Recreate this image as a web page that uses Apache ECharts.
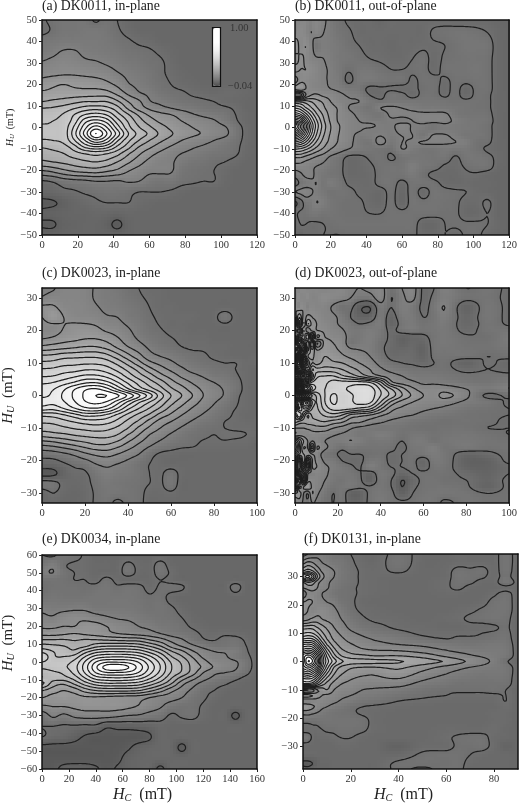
<!DOCTYPE html>
<html><head><meta charset="utf-8">
<script src="https://cdn.jsdelivr.net/npm/echarts@6/dist/echarts.min.js"></script>
<style>html,body{margin:0;padding:0;background:#fff}#c{width:520px;height:804px}</style></head>
<body><div id="c"></div>
<script>
// FORC values, in units of 1/200 (contours every 10 units)
const hcA=[0,6,12,18,24,30,36,42,48,54,60,66,72,78,84,90,96,102,108,114,120];
const huA=[50,45,40,35,30,25,20,16,12,9,6,3,0,-3,-6,-9,-12,-16,-20,-25,-30,-35,-40,-45,-50];
const zA=[
[9,12,14,14,14,9,13,10,7,6,6,6,6,6,6,6,6,6,6,6,6],
[8,11,14,14,15,15,14,11,8,6,6,6,6,6,6,6,6,6,6,6,6],
[14,15,16,16,16,16,15,13,11,9,8,6,6,6,6,6,6,6,6,6,6],
[16,18,21,21,18,17,16,15,13,12,11,9,7,6,6,6,6,6,6,6,6],
[21,23,25,24,22,21,19,17,15,14,12,11,8,6,6,6,6,6,6,6,6],
[27,28,29,29,28,27,25,21,18,16,14,11,9,7,6,6,6,6,6,6,6],
[35,38,40,38,37,36,33,28,21,18,15,12,10,8,7,6,6,6,6,6,6],
[42,43,44,44,44,45,44,37,28,21,18,14,12,11,9,8,7,8,8,7,6],
[50,52,54,57,60,60,60,52,40,32,21,18,15,13,12,11,10,8,7,6,6],
[60,61,64,69,74,76,73,64,48,36,28,23,20,17,15,13,12,11,9,6,6],
[66,67,71,80,90,94,89,74,61,48,38,33,30,26,21,18,16,14,10,7,6],
[69,70,73,85,106,114,106,85,69,55,45,38,34,30,27,24,21,16,11,7,6],
[71,71,74,92,117,135,121,96,74,61,52,44,38,33,30,27,24,21,14,8,6],
[73,73,74,96,124,150,131,106,81,67,58,48,41,36,32,29,25,22,15,8,6],
[69,70,73,89,110,128,117,92,73,60,50,42,36,30,26,23,20,17,13,8,6],
[61,63,66,76,92,99,94,78,64,50,42,35,29,24,21,19,17,14,12,7,6],
[55,57,60,66,71,74,71,64,52,42,34,28,23,20,18,16,14,13,11,7,6],
[48,50,52,55,58,60,57,50,42,34,27,22,21,17,14,13,11,10,8,6,6],
[30,33,38,42,44,45,42,38,31,26,22,22,21,14,12,11,10,8,6,6,6],
[9,11,15,17,18,20,20,19,21,20,16,14,15,12,11,10,10,7,6,6,6],
[5,6,8,9,11,12,13,13,12,10,10,10,9,7,6,6,6,6,6,6,6],
[-2,-1,2,5,7,9,10,10,10,8,7,6,6,6,6,6,6,6,6,6,6],
[2,3,4,5,5,6,6,5,6,6,6,6,6,6,6,6,6,6,6,6,6],
[-1,-1,3,4,5,5,3,-2,4,6,6,6,6,6,6,6,6,6,6,6,6],
[3,3,4,5,5,5,5,4,5,6,6,6,6,6,6,6,6,6,6,6,6]];

const hcB=[0,3,6,9,12,16,20,25,30,36,42,48,54,60,66,72,78,84,90,96,102,108,114,120];
const huB=[50,44,38,32,27,22,18,15,12,9,6,3,1,-1,-4,-7,-10,-14,-18,-22,-26,-30,-35,-40,-45,-50];
const zB=[
[22,24,26,22,26,22,16,12,9,8,8,6,9,8,8,8,8,8,7,7,7,7,6,6],
[22,28,26,20,24,20,17,13,11,8,8,8,8,8,8,8,11,12,13,13,12,10,7,6],
[40,26,30,24,14,18,17,15,12,10,8,8,7,8,8,9,9,10,12,14,14,13,7,6],
[24,32,28,24,21,20,18,15,14,12,10,9,8,8,10,12,8,11,12,13,13,12,7,6],
[34,30,30,28,25,21,19,15,11,14,14,12,10,10,11,12,8,12,13,13,14,12,7,6],
[14,26,28,26,24,21,19,16,8,15,16,14,13,13,9,12,12,9,12,12,13,12,7,6],
[34,38,30,26,24,22,20,18,15,14,8,9,9,8,9,11,12,8,12,7,12,12,7,6],
[-8,-5,20,30,32,28,26,22,19,17,10,8,14,12,8,12,12,9,12,7,12,11,7,6],
[60,58,55,50,44,38,30,24,21,20,15,12,14,14,14,14,14,13,12,12,12,11,7,6],
[90,85,72,62,52,42,34,28,20,16,13,20,22,20,18,16,16,15,14,13,12,11,7,6],
[120,112,95,78,62,48,36,28,23,18,15,14,22,22,22,22,22,22,15,13,13,12,7,6],
[160,150,120,92,72,52,38,28,24,20,17,16,18,17,20,23,23,23,18,15,14,13,7,6],
[200,170,135,100,76,55,40,30,24,21,22,18,18,24,19,18,14,18,16,15,14,12,7,6],
[190,165,130,98,74,54,40,30,24,21,18,18,18,23,19,16,14,17,16,15,14,12,7,6],
[150,135,112,88,68,50,38,29,24,17,18,20,17,20,20,14,22,21,18,14,14,12,7,6],
[105,100,88,72,58,45,36,28,23,16,14,23,15,20,19,21,22,21,20,18,12,11,7,6],
[70,68,62,54,46,38,30,24,20,16,14,13,12,20,17,14,14,16,15,15,12,9,7,6],
[40,40,36,32,28,24,18,14,8,8,11,13,9,13,14,14,13,14,9,14,14,12,8,6],
[26,26,24,22,20,18,15,12,7,7,9,12,13,13,18,14,13,9,8,11,13,13,7,6],
[14,18,22,22,18,15,13,12,7,7,8,12,13,13,16,12,8,7,7,9,9,7,6,6],
[6,12,16,18,20,14,17,14,9,8,8,12,13,8,13,13,12,8,7,8,7,7,6,6],
[20,22,24,21,18,15,12,13,12,9,8,7,12,6,13,7,13,12,11,10,8,7,6,6],
[-2,5,14,16,20,18,14,12,11,11,8,7,12,6,13,12,13,12,11,8,8,11,6,6],
[8,12,12,14,15,13,13,12,11,11,10,10,12,12,12,12,12,11,11,7,7,10,6,6],
[5,10,10,9,9,10,11,12,12,12,12,12,12,12,12,7,6,10,11,11,11,10,7,6],
[9,5,8,9,9,10,10,10,11,11,11,11,11,11,11,8,7,10,8,11,11,8,6,6]];

const hcC=[0,5,10,15,20,25,30,35,40,45,50,55,60,65,70,75,80,85,90,95,100];
const huC=[33,30,27,24,21,18,15,12,10,8,6,4,2,0,-2,-4,-6,-8,-10,-12,-15,-18,-21,-24,-27,-30,-33];
const zC=[
[18,19,24,24,23,19,17,15,12,10,8,8,7,7,7,7,7,7,7,7,7],
[21,24,24,24,23,19,17,16,13,11,9,8,7,7,7,7,7,7,7,7,7],
[32,32,26,25,24,21,18,17,15,13,10,8,8,7,7,7,7,7,7,7,7],
[30,38,30,26,25,24,21,20,16,14,11,9,8,8,8,7,8,14,8,7,7],
[26,26,30,33,33,31,26,24,20,16,12,10,8,8,7,7,7,7,7,7,7],
[28,30,34,36,38,38,35,30,24,18,14,12,10,9,8,8,7,7,7,7,7],
[42,44,46,48,50,50,46,38,30,24,18,14,12,10,9,9,8,8,7,7,6],
[62,63,66,67,68,68,64,55,44,34,24,20,17,14,12,11,9,8,7,7,8],
[72,73,76,77,78,78,75,67,56,44,33,27,22,17,14,12,11,10,10,8,9],
[81,82,85,86,89,89,85,77,67,56,44,35,28,22,17,15,13,12,10,8,7],
[89,90,94,98,102,102,97,88,76,65,55,44,36,28,23,19,15,14,11,8,7],
[98,100,105,111,118,119,113,101,88,76,65,55,44,36,29,24,20,17,13,8,7],
[106,109,118,129,138,141,133,118,101,86,75,64,52,44,35,28,23,19,14,8,7],
[108,112,122,132,142,150,150,142,128,112,95,75,60,50,40,30,24,19,12,8,7],
[114,113,119,129,139,143,139,125,108,92,80,67,54,44,35,27,21,16,11,8,7],
[105,103,110,119,127,129,123,109,92,80,69,58,46,37,29,23,18,13,10,8,7],
[83,84,89,96,103,103,98,88,77,67,58,46,38,30,24,19,15,12,9,7,7],
[72,73,77,81,85,86,84,77,67,58,46,36,30,24,19,15,13,10,9,8,8],
[64,65,68,71,73,75,73,68,60,48,38,30,24,19,15,12,11,10,9,9,8],
[54,56,58,61,63,64,64,60,50,40,30,24,19,15,12,11,10,11,11,10,9],
[32,34,38,42,46,50,50,45,37,29,22,17,14,12,11,9,9,9,8,8,6],
[14,15,18,22,28,32,34,30,25,20,13,9,8,7,7,7,7,7,7,7,7],
[6,6,9,12,14,20,22,20,17,13,10,8,7,7,7,7,7,7,7,7,7],
[-3,-2,4,8,9,14,18,16,15,13,10,9,13,8,7,7,7,7,7,7,7],
[14,13,8,7,8,12,15,14,13,12,10,9,14,7,7,7,7,7,7,7,7],
[6,10,7,6,7,11,14,14,13,12,8,8,9,7,7,7,7,7,7,7,7],
[6,7,5,6,7,11,13,8,12,12,7,7,7,7,7,7,7,7,7,7,7]];

const hcD=[0,2,4,6,8,10,14,18,22,26,30,35,40,45,50,55,60,65,70,80,90,100];
const huD=[33,30,27,24,22,20,18,16,14,12,10,8,6,4,2,0,-2,-4,-6,-8,-10,-12,-14,-16,-18,-20,-22,-24,-26,-28,-30,-33];
const zD=[
[28,22,30,24,26,26,22,24,26,22,20,22,24,12,20,24,8,10,20,10,14,8],
[20,30,24,28,24,24,28,26,24,20,16,16,24,10,18,22,8,12,18,12,13,8],
[30,24,30,22,26,24,24,18,12,12,2,0,16,10,18,16,8,14,20,4,14,8],
[20,50,26,34,30,28,24,22,16,10,4,4,15,6,16,16,10,13,18,6,14,8],
[-20,60,20,50,36,30,26,22,18,14,10,12,17,4,14,16,12,14,16,6,13,9],
[20,-10,40,20,34,30,28,24,21,16,15,17,15,8,14,16,13,14,15,8,13,13],
[-5,40,30,60,-5,40,30,26,24,16,15,18,14,8,4,6,8,13,15,11,11,16],
[40,100,60,20,70,10,34,30,26,14,16,18,12,8,3,6,5,13,15,12,12,16],
[60,10,100,30,50,30,36,32,28,22,20,18,12,7,6,7,3,13,14,13,12,14],
[-20,140,20,40,44,34,40,36,32,28,25,20,14,8,8,8,4,12,13,13,10,12],
[30,70,-10,20,40,36,44,42,40,35,30,24,17,12,10,9,7,10,12,4,11,7],
[20,100,60,30,60,54,55,54,50,44,38,30,22,17,14,13,12,12,12,8,10,8],
[-15,-10,10,-5,40,66,70,70,62,56,48,38,30,24,20,16,15,15,14,12,12,12],
[50,110,70,60,72,76,78,84,84,84,84,80,62,33,26,22,18,18,17,14,13,16],
[90,220,140,120,90,78,80,84,88,92,96,95,78,60,44,32,26,26,25,20,16,20],
[10,-10,10,30,50,62,80,92,84,88,95,96,80,66,50,38,30,27,33,22,8,12],
[90,60,100,110,70,60,80,92,84,88,94,92,70,48,36,30,26,25,24,18,14,9],
[120,60,80,80,60,58,74,84,84,82,78,72,52,34,28,25,22,20,18,14,12,10],
[65,90,60,40,52,54,62,66,60,48,44,40,32,26,22,20,17,15,14,12,11,10],
[54,48,44,44,46,48,50,46,42,34,32,26,22,18,16,14,13,12,11,12,11,9],
[30,30,30,32,34,36,36,30,26,21,18,16,14,14,13,12,11,11,12,12,10,10],
[22,26,26,24,26,26,24,21,19,18,15,16,18,16,12,14,14,12,13,14,12,10],
[80,60,40,30,20,24,20,18,18,20,18,14,15,14,10,15,16,12,14,15,13,12],
[100,60,30,30,-5,30,22,16,12,15,13,13,13,12,8,14,15,18,13,15,12,13],
[70,50,40,36,30,26,15,12,8,10,10,11,12,9,10,13,14,17,14,6,8,12],
[40,-10,50,-5,30,28,18,16,10,8,8,14,14,8,10,12,6,15,14,3,3,12],
[10,-20,20,-15,30,30,22,18,15,12,9,18,14,10,10,12,7,13,13,4,3,8],
[70,-10,-20,20,20,24,22,16,15,14,11,5,15,12,6,10,12,12,12,8,4,10],
[-10,60,-15,25,26,24,20,15,13,15,12,3,14,10,0,6,12,13,11,10,5,12],
[80,20,30,40,28,24,18,13,14,15,12,11,14,10,0,8,12,13,13,11,4,12],
[40,36,20,10,30,22,15,10,14,4,3,12,15,12,3,10,13,14,14,13,10,12],
[20,24,18,12,20,18,12,10,13,6,5,12,16,13,12,12,14,14,8,14,12,12]];

const hcE=[0,8,16,24,32,40,48,56,64,72,80,88,96,104,112,120,128,136,144,152,160];
const huE=[60,54,50,46,42,36,30,25,20,16,12,9,6,3,0,-3,-6,-9,-12,-16,-20,-25,-30,-36,-42,-48,-54,-60];
const zE=[
[10,9,13,12,9,6,6,6,6,6,6,6,6,6,6,6,6,6,6,6,6],
[14,18,11,9,9,7,7,7,12,8,7,13,7,6,6,6,6,6,6,6,6],
[18,20,13,10,9,7,7,7,13,8,7,13,9,6,6,6,6,6,6,6,6],
[13,13,12,10,10,8,12,8,7,7,7,10,8,6,6,6,6,6,6,6,6],
[10,12,12,12,11,12,14,11,13,12,8,11,12,11,6,6,6,6,13,6,6],
[12,14,13,13,13,14,14,14,14,13,11,12,8,6,6,6,6,6,6,6,6],
[18,17,17,18,18,15,15,15,15,14,12,13,11,8,6,6,6,6,6,6,6],
[22,21,26,28,27,24,21,19,18,16,14,13,12,10,7,6,6,6,6,6,6],
[28,28,30,30,34,34,30,26,24,20,18,15,14,12,9,7,6,6,6,6,6],
[36,36,38,40,38,36,33,30,28,26,24,20,16,14,12,9,8,9,8,7,6],
[52,52,52,50,52,52,51,50,49,48,42,36,28,22,15,11,10,12,13,9,6],
[64,62,60,56,58,66,69,69,69,66,59,50,37,29,22,17,13,13,14,10,6],
[76,70,66,62,75,85,89,89,88,85,76,65,51,42,31,24,20,19,18,11,6],
[90,72,70,74,90,104,108,109,108,103,92,78,61,51,39,28,22,21,16,12,7],
[80,74,76,83,101,120,129,129,127,119,103,87,69,58,45,34,26,23,21,14,7],
[72,74,78,86,105,128,145,149,141,126,108,90,71,60,47,38,29,24,21,14,7],
[65,68,72,83,101,120,129,129,127,119,103,87,69,58,45,30,22,20,18,12,6],
[60,64,66,74,90,104,108,109,108,103,92,78,61,46,34,24,18,15,12,8,6],
[72,56,52,62,75,85,89,89,88,85,76,65,51,34,24,17,13,11,8,6,6],
[50,44,40,44,54,60,62,62,62,60,53,44,33,25,18,12,10,7,6,6,6],
[40,36,38,36,38,38,37,36,35,34,30,26,24,20,14,11,8,6,6,6,6],
[28,30,30,32,34,34,34,34,32,29,25,21,15,12,12,9,6,6,6,6,6],
[14,22,18,22,24,24,24,22,20,19,16,14,9,11,12,8,6,6,-2,6,6],
[10,10,9,9,8,8,2,3,3,4,5,7,6,6,6,6,6,6,6,6,6],
[10,7,6,3,-1,-3,-3,-3,-3,-3,-1,6,6,6,6,6,6,6,6,6,6],
[-3,-3,-3,-3,-3,-3,-3,-3,-1,3,5,6,6,-2,6,6,6,6,6,6,6],
[-3,-3,-3,-3,-3,-3,-3,-2,3,5,6,6,6,6,6,6,6,6,6,6,6],
[-3,-2,2,3,3,1,-2,1,4,5,6,-2,6,6,6,6,6,6,6,6,6]];

const hcF=[0,2,4,6,8,10,13,16,20,25,30,40,50,60,65,70,75,80,85,90];
const huF=[38,35,32,30,28,26,24,21,18,15,12,10,8,6,4,2,0,-2,-4,-6,-8,-10,-12,-14,-16,-18,-21,-24,-27,-30,-33,-36,-38];
const zF=[
[6,10,14,18,18,16,14,12,10,8,7,12,8,7,9,8,8,8,13,7],
[26,32,30,24,20,18,15,14,11,8,7,13,7,7,8,8,8,8,13,7],
[50,56,50,38,28,24,20,15,12,9,8,11,7,8,12,11,12,8,13,6],
[85,95,78,50,34,26,20,15,12,9,8,8,7,8,13,12,11,8,12,6],
[40,50,46,34,26,22,17,14,12,9,8,7,7,9,12,11,8,8,14,8],
[30,34,36,30,24,21,16,13,11,9,8,7,7,9,11,8,7,7,8,7],
[10,24,26,24,20,18,14,12,11,9,8,7,7,8,8,7,7,9,12,7],
[30,32,30,24,22,20,18,13,11,8,7,7,7,7,7,7,8,12,13,7],
[38,30,24,26,28,26,22,17,12,9,8,7,7,7,8,9,11,13,13,7],
[26,28,32,34,30,28,25,20,15,11,9,8,7,8,9,11,12,13,12,6],
[55,56,56,50,44,38,30,24,18,14,12,9,8,7,7,8,8,9,11,6],
[70,72,70,62,52,44,34,28,22,18,15,12,9,9,9,9,10,11,12,6],
[90,92,90,78,62,50,38,32,26,22,19,16,12,10,11,11,11,12,13,6],
[120,122,118,100,78,60,45,36,31,26,23,20,18,15,14,13,14,15,14,7],
[145,150,145,125,98,75,54,42,36,32,30,29,25,20,18,17,16,16,15,7],
[175,185,175,150,115,88,64,50,44,42,40,40,36,28,24,21,19,17,15,7],
[170,200,190,160,120,95,75,62,55,54,53,51,45,39,33,28,23,18,11,6],
[165,175,165,145,110,85,60,48,42,40,40,42,35,27,23,20,18,16,14,7],
[140,145,135,118,92,72,52,42,36,33,32,37,28,21,18,16,15,15,14,7],
[110,112,108,92,72,58,44,36,31,28,28,30,22,17,15,14,13,14,13,7],
[85,86,80,66,54,46,36,30,27,24,23,23,17,14,12,12,12,12,12,7],
[8,10,16,30,34,40,30,26,24,20,19,17,13,11,11,11,11,12,10,6],
[44,44,40,34,30,28,26,22,20,17,16,13,11,10,9,9,9,9,10,6],
[22,22,24,26,26,24,22,19,17,14,13,10,9,8,8,8,8,8,10,6],
[40,38,32,27,22,20,17,15,12,10,9,8,7,7,7,7,7,7,9,6],
[24,24,22,20,17,15,13,12,11,9,8,7,7,7,7,7,7,8,8,6],
[12,12,12,12,13,13,13,13,13,12,8,7,7,7,7,7,7,8,8,6],
[8,8,9,9,10,11,11,12,12,11,8,7,7,8,8,8,8,9,7,6],
[14,13,9,7,8,8,9,10,10,8,7,7,7,9,11,12,12,8,7,6],
[7,7,7,7,7,7,7,8,8,7,7,3,8,8,11,11,12,8,4,6],
[7,7,7,7,7,7,7,7,7,7,7,7,11,12,12,10,8,7,7,6],
[-2,-2,0,3,6,6,7,7,7,7,7,11,12,11,12,8,7,7,7,6],
[3,2,4,5,6,6,7,7,7,7,7,11,9,12,12,7,7,7,7,6]];

const xTicksA=[0,20,40,60,80,100,120], yTicksA=[-50,-40,-30,-20,-10,0,10,20,30,40,50];
const xTicksC=[0,20,40,60,80,100], yTicksC=[-30,-20,-10,0,10,20,30];
const xTicksE=[0,20,40,60,80,100,120,140,160], yTicksE=[-60,-50,-40,-30,-20,-10,0,10,20,30,40,50,60];
const xTicksF=[0,20,40,60,80], yTicksF=[-30,-20,-10,0,10,20,30];
const titles=['(a) DK0011, in-plane','(b) DK0011, out-of-plane','(c) DK0023, in-plane','(d) DK0023, out-of-plane','(e) DK0034, in-plane','(f) DK0131, in-plane'];
const barLabels=['1.00','\u22120.04'];

const SERIF='"Liberation Serif","Times New Roman",serif';
const zMin=-8,zMax=200,N=144;
const panels=[
 {hc:hcA,hu:huA,z:zA,xm:120,ym:50,xt:xTicksA,yt:yTicksA,box:[42,20,215,215],tt:[42,-1],yn:10},
 {hc:hcB,hu:huB,z:zB,xm:120,ym:50,xt:xTicksA,yt:yTicksA,box:[295,20,216,215],tt:[295,-1]},
 {hc:hcC,hu:huC,z:zC,xm:100,ym:33,xt:xTicksC,yt:yTicksC,box:[42,288,215,215],tt:[42,266],yn:15},
 {hc:hcD,hu:huD,z:zD,xm:100,ym:33,xt:xTicksC,yt:yTicksC,box:[295,288,216,215],tt:[295,266]},
 {hc:hcE,hu:huE,z:zE,xm:160,ym:60,xt:xTicksE,yt:yTicksE,box:[42,555,215,215],tt:[42,532],yn:15,ypad:38,xn:1},
 {hc:hcF,hu:huF,z:zF,xm:90,ym:38,xt:xTicksF,yt:yTicksF,box:[303,554,215,215],tt:[304,532],xn:1}
];

function idxOf(arr,v){ // position of v in a monotone coordinate list, as a fractional index
  for(let i=0;i<arr.length-1;i++){
    const a=arr[i],b=arr[i+1];
    if((v-a)*(v-b)<=0) return i+(v-a)/(b-a);
  }
  return v<Math.min(arr[0],arr[arr.length-1])===arr[0]<arr[arr.length-1]?0:arr.length-1;
}
function cr(t){const t2=t*t,t3=t2*t;return [-.5*t3+t2-.5*t,1.5*t3-2.5*t2+1,-1.5*t3+2*t2+.5*t,.5*t3-.5*t2];}
function field(p){
  const xs=[],ys=[],F=[];
  for(let i=0;i<=N;i++){xs.push(p.xm*i/N);ys.push(p.ym-2*p.ym*i/N);}
  const nx=p.hc.length,ny=p.hu.length;
  const get=(j,i)=>{j=Math.max(0,Math.min(ny-1,j));i=Math.max(0,Math.min(nx-1,i));const r=p.z[j];return r[Math.min(i,r.length-1)];};
  const ux=xs.map(x=>{const u=idxOf(p.hc,x),f=Math.min(Math.floor(u),nx-2);return [f,cr(u-f)];});
  const uy=ys.map(y=>{const u=idxOf(p.hu,y),f=Math.min(Math.floor(u),ny-2);return [f,cr(u-f)];});
  for(const [fy,wy] of uy){
    const row=[];
    for(const [fx,wx] of ux){
      let s=0;
      for(let a=0;a<4;a++)for(let b=0;b<4;b++)s+=wy[a]*wx[b]*get(fy-1+a,fx-1+b);
      row.push(s);
    }
    F.push(row);
  }
  return {xs,ys,F};
}
function contours(G,lev){
  const {xs,ys,F}=G,adj=new Map(),segs=[],pts=new Map();
  const addSeg=(a,b)=>{const k=segs.length;segs.push([a,b,false]);
    (adj.get(a)||adj.set(a,[]).get(a)).push(k);(adj.get(b)||adj.set(b,[]).get(b)).push(k);};
  for(let j=0;j<N;j++)for(let i=0;i<N;i++){
    const a=F[j][i],b=F[j][i+1],c=F[j+1][i+1],d=F[j+1][i],cross=[];
    if((a<lev)!==(b<lev)){const k='h'+j+'_'+i;pts.set(k,[xs[i]+(lev-a)/(b-a)*(xs[i+1]-xs[i]),ys[j]]);cross.push(k);}
    if((b<lev)!==(c<lev)){const k='v'+j+'_'+(i+1);pts.set(k,[xs[i+1],ys[j]+(lev-b)/(c-b)*(ys[j+1]-ys[j])]);cross.push(k);}
    if((d<lev)!==(c<lev)){const k='h'+(j+1)+'_'+i;pts.set(k,[xs[i]+(lev-d)/(c-d)*(xs[i+1]-xs[i]),ys[j+1]]);cross.push(k);}
    if((a<lev)!==(d<lev)){const k='v'+j+'_'+i;pts.set(k,[xs[i],ys[j]+(lev-a)/(d-a)*(ys[j+1]-ys[j])]);cross.push(k);}
    if(cross.length===2)addSeg(cross[0],cross[1]);
    else if(cross.length===4){
      if(((a+b+c+d)/4<lev)===(a<lev)){addSeg(cross[0],cross[1]);addSeg(cross[2],cross[3]);}
      else{addSeg(cross[0],cross[3]);addSeg(cross[1],cross[2]);}
    }
  }
  const out=[];
  const walk=start=>{
    const chain=[pts.get(start)];let cur=start;
    for(;;){
      const k=adj.get(cur).find(s=>!segs[s][2]);
      if(k===undefined)break;
      segs[k][2]=true;cur=segs[k][0]===cur?segs[k][1]:segs[k][0];chain.push(pts.get(cur));
    }
    if(chain.length>1)out.push(chain);
  };
  for(const [k,v] of adj)if(v.length===1)walk(k);
  for(const [k] of adj)walk(k);
  return out;
}
function fmt(v){return v<0?'\u2212'+(-v):String(v);}

const grid=[],xAxis=[],yAxis=[],series=[],title=[],lineSeries=[];
panels.forEach((p,n)=>{
  const [l,t,w,h]=p.box;
  grid.push({left:l,top:t,width:w,height:h,show:false});
  title.push({text:titles[n],left:p.tt[0],top:p.tt[1],padding:0,textStyle:{fontFamily:SERIF,fontSize:13.8,fontWeight:'normal',color:'#222'}});
  const rich={i:{fontFamily:SERIF,fontStyle:'italic',fontSize:p.yn||15,color:'#222'},
    s:{fontFamily:SERIF,fontStyle:'italic',fontSize:(p.yn||15)*.68,color:'#222',verticalAlign:'bottom',padding:[(p.yn||15)*.35,0,0,0]},
    r:{fontFamily:SERIF,fontSize:p.yn||15,color:'#222'}};
  const lineStyle={color:'#111',width:1.5};
  const base={splitLine:{show:false},z:10};
  xAxis.push({...base,type:'value',gridIndex:n,min:0,max:p.xm,position:'bottom',
    axisLine:{show:true,onZero:false,lineStyle},axisTick:{show:true,length:3,customValues:p.xt,lineStyle:{color:'#222',width:1}},
    axisLabel:{show:true,customValues:p.xt,margin:5,fontFamily:SERIF,fontSize:10.5,color:'#333',formatter:fmt},
    name:p.xn?'{i|H}{s|C}{r|  (mT)}':'',nameLocation:'middle',nameGap:18,
    nameTextStyle:{padding:[0,14,0,0],rich:{...rich,i:{...rich.i,fontSize:16},r:{...rich.r,fontSize:16}}}});
  xAxis.push({...base,type:'value',gridIndex:n,min:0,max:p.xm,position:'top',axisLine:{show:true,onZero:false,lineStyle},axisTick:{show:false},axisLabel:{show:false}});
  yAxis.push({...base,type:'value',gridIndex:n,min:-p.ym,max:p.ym,position:'left',
    axisLine:{show:true,onZero:false,lineStyle},axisTick:{show:true,length:3,customValues:p.yt,lineStyle:{color:'#222',width:1}},
    axisLabel:{show:true,customValues:p.yt,margin:5,fontFamily:SERIF,fontSize:10.5,color:'#333',formatter:fmt},
    name:p.yn?'{i|H}{s|U}{r|  (mT)}':'',nameLocation:'middle',nameRotate:90,nameGap:26,
    nameTextStyle:{padding:[0,0,0,p.ypad||0],rich}});
  yAxis.push({...base,type:'value',gridIndex:n,min:-p.ym,max:p.ym,position:'right',axisLine:{show:true,onZero:false,lineStyle},axisTick:{show:false},axisLabel:{show:false}});
  const G=field(p),cells=[];
  for(let j=0;j<N;j+=2)for(let i=0;i<N;i+=2){
    const v=G.F[j+1][i+1];
    cells.push([G.xs[i],G.ys[j],G.xs[i+2],G.ys[j+2],Math.max(zMin,Math.min(zMax,v))]);
  }
  series.push({type:'custom',xAxisIndex:2*n,yAxisIndex:2*n,silent:true,animation:false,clip:true,z:2,
    dimensions:['x0','y0','x1','y1','z'],encode:{x:[0,2],y:[1,3]},data:cells,
    renderItem(params,api){
      const a=api.coord([api.value(0),api.value(1)]),b=api.coord([api.value(2),api.value(3)]);
      const x=Math.floor(a[0]),y=Math.floor(a[1]);
      return {type:'rect',shape:{x,y,width:Math.ceil(b[0])-x,height:Math.ceil(b[1])-y},style:{fill:api.visual('color')},silent:true};
    }});
  const chains=[];
  for(let lev=-30;lev<=210;lev+=10)chains.push(...contours(G,lev+.001));
  lineSeries.push({type:'custom',xAxisIndex:2*n,yAxisIndex:2*n,silent:true,animation:false,clip:true,z:3,
    data:chains.map((c,k)=>[c[0][0],c[0][1],k]),
    renderItem(params,api){
      const c=chains[params.dataIndex];
      return {type:'polyline',shape:{points:c.map(q=>api.coord(q))},style:{fill:null,stroke:'#1e1e1e',lineWidth:1.2,lineJoin:'round'},silent:true};
    }});
});
const chart=echarts.init(document.getElementById('c'),null,{renderer:'canvas'});
chart.setOption({
  animation:false,backgroundColor:'#fff',title,grid,xAxis,yAxis,
  visualMap:[{type:'continuous',show:true,seriesIndex:[0,1,2,3,4,5],dimension:4,min:zMin,max:zMax,
    left:213,top:28,itemWidth:8,itemHeight:58,padding:0,calculable:false,hoverLink:false,text:null,
    inRange:{color:['#505050','#7d7d7d','#a0a0a0','#c0c0c0','#dcdcdc','#f2f2f2','#ffffff','#ffffff','#ffffff']},z:20}],
  graphic:[
    {type:'rect',z:30,shape:{x:212.5,y:27.5,width:8,height:59},style:{fill:null,stroke:'#111',lineWidth:1.2}},
    {type:'text',z:30,x:230,y:23,style:{text:barLabels[0],font:'10.5px '+SERIF,fill:'#333'}},
    {type:'text',z:30,x:228,y:81,style:{text:barLabels[1],font:'10.5px '+SERIF,fill:'#333'}}
  ],
  series:series.concat(lineSeries)
});
</script></body></html>
